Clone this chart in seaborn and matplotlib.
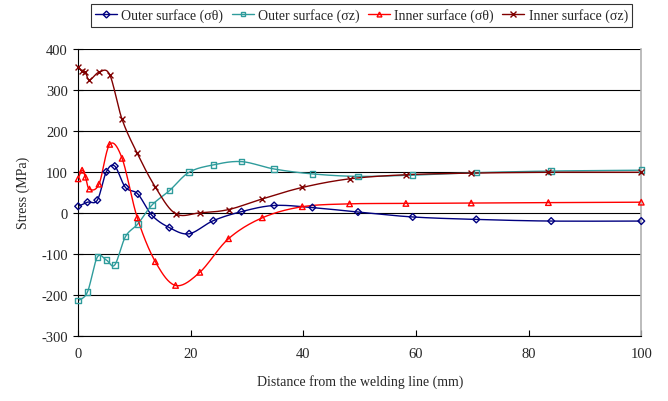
import numpy as np
import pandas as pd
import matplotlib
matplotlib.use("Agg")
import matplotlib.pyplot as plt
import seaborn as sns
from matplotlib.lines import Line2D

# ---- data ----
x_outer = [0, 1.65, 3.4, 5.0, 6.5, 8.4, 10.6, 13.1, 16.2, 19.7, 24.0, 29.0, 34.8, 41.6, 49.7, 59.4, 70.7, 84, 100]
outer_theta = [16, 26, 31, 100, 114, 62, 46, -6, -36, -51, -19, 3, 18, 13, 2, -10, -16, -20, -20]
outer_z = [-214, -193, -108, -115, -127, -58, -27, 19, 54, 99, 117, 125, 107, 95, 89, 92, 98, 102, 104]

x_inner = [0, 0.7, 1.3, 2.0, 3.7, 5.6, 7.8, 10.5, 13.7, 17.3, 21.6, 26.7, 32.7, 39.8, 48.2, 58.2, 69.8, 83.5, 100]
inner_theta = [83, 104, 87, 58, 70, 167, 133, -12, -119, -177, -145, -63, -12, 15, 22, 23, 24, 25, 26]
inner_z = [355, 345, 343, 324, 343, 337, 228, 145, 63, -2, 0, 8, 34, 62, 83, 93, 97, 99, 99]

labels = ["Outer surface (σθ)", "Outer surface (σz)", "Inner surface (σθ)", "Inner surface (σz)"]
colors = ["#000080", "#2f9c9c", "#ff0000", "#800000"]
markers = ["D", "s", "^", "x"]
yticks = [-300, -200, -100, 0, 100, 200, 300, 400]
xticks = [0, 20, 40, 60, 80, 100]

series = [(x_outer, outer_theta), (x_outer, outer_z), (x_inner, inner_theta), (x_inner, inner_z)]


def smooth(xs, ys, n=20):
    """Excel-like smoothed line (Bezier with Catmull-Rom control points)."""
    P = np.column_stack([xs, ys]).astype(float)
    out = [P[0]]
    t = np.linspace(0, 1, n)[1:, None]
    for i in range(len(P) - 1):
        p0 = P[i - 1] if i > 0 else P[i]
        p1, p2 = P[i], P[i + 1]
        p3 = P[i + 2] if i + 2 < len(P) else P[i + 1]
        c1 = p1 + (p2 - p0) / 6.0
        c2 = p2 - (p3 - p1) / 6.0
        seg = ((1 - t) ** 3) * p1 + 3 * ((1 - t) ** 2) * t * c1 + 3 * (1 - t) * t ** 2 * c2 + t ** 3 * p2
        out.extend(seg)
    out = np.array(out)
    return out[:, 0], out[:, 1]


sns.set_theme(style="white")
plt.rcParams["font.family"] = ["Liberation Serif", "DejaVu Serif"]
plt.rcParams["axes.unicode_minus"] = False

fig = plt.figure(figsize=(6.68, 4.02), dpi=100)
ax = fig.add_axes([0.117, 0.162, 0.843, 0.714])

for y in yticks:
    ax.axhline(y, color="black", lw=0.8, zorder=0)

handles = []
for (xs, ys), lab, c, m in zip(series, labels, colors, markers):
    sx, sy = smooth(xs, ys)
    ax.plot(sx, sy, color=c, lw=1.0, zorder=2)
    df = pd.DataFrame({"x": xs, "y": ys})
    if m == "x":
        sns.scatterplot(data=df, x="x", y="y", ax=ax, marker="x", color=c, s=18, linewidth=1.0,
                        zorder=3, clip_on=False)
    else:
        sns.scatterplot(data=df, x="x", y="y", ax=ax, marker=m, facecolor="none", edgecolor=c,
                        s=16 if m != "D" else 12, linewidth=1.0, zorder=3, clip_on=False)
    if m == "x":
        h = Line2D([], [], color=c, lw=1.0, marker="x", markersize=4, markeredgewidth=1.0)
    else:
        h = Line2D([], [], color=c, lw=1.0, marker=m, markersize=3.5, markerfacecolor="none",
                   markeredgecolor=c, markeredgewidth=1.0)
    handles.append(h)

ax.set_xlim(0, 100)
ax.set_ylim(-300, 400)
ax.set_xticks(xticks)
ax.set_yticks(yticks)
ax.set_xlabel("Distance from the welding line (mm)", fontsize=10, labelpad=10)
ax.set_ylabel("Stress (MPa)", fontsize=10, labelpad=8)
ax.tick_params(axis="y", labelsize=10.5, direction="inout", length=7, width=0.8, color="black",
               left=True, pad=4)
ax.tick_params(axis="x", labelsize=10.5, direction="in", length=4, width=0.8, color="black",
               bottom=True, pad=8)
ax.spines["top"].set_visible(False)
ax.spines["right"].set_color("#b0b0b0")
ax.spines["right"].set_linewidth(1.2)
ax.spines["left"].set_color("black")
ax.spines["bottom"].set_color("black")
ax.spines["left"].set_linewidth(0.8)
ax.spines["bottom"].set_linewidth(0.8)

leg = fig.legend(handles, labels, loc="center", bbox_to_anchor=(0.541, 0.959), ncol=4,
                 fontsize=10, frameon=True, fancybox=False, edgecolor="black",
                 handlelength=1.6, handletextpad=0.3, columnspacing=0.6, borderpad=0.3)
leg.get_frame().set_linewidth(0.8)

fig.savefig("out.png", dpi=100)
